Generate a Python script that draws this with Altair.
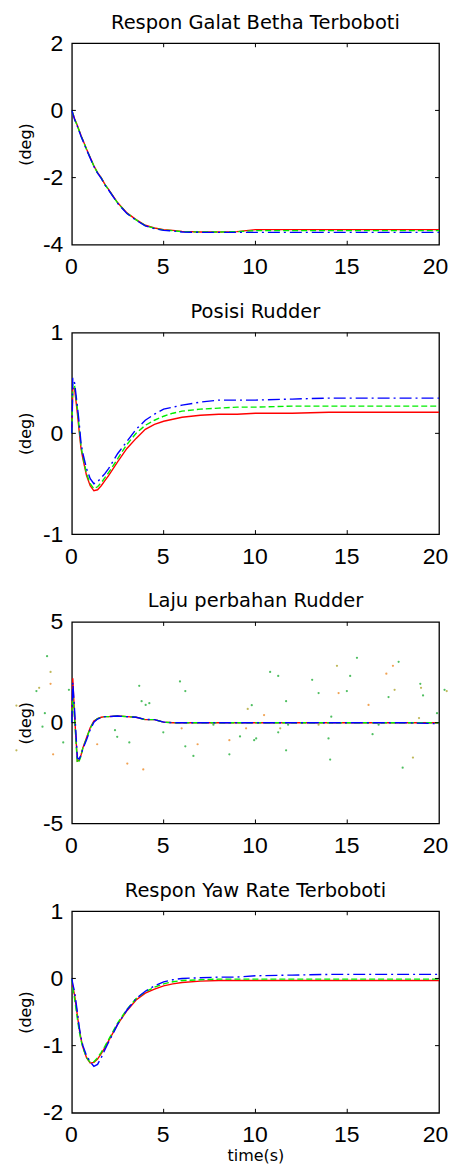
import altair as alt
import pandas as pd

T = [0, 0.05, 0.15, 0.3, 0.4, 0.5, 0.6, 0.8, 1.0, 1.2, 1.4, 1.6, 1.8, 2.0, 2.5, 3.0,
     3.5, 4.0, 4.5, 5.0, 5.5, 6.0, 7.0, 8.0, 9.0, 10.0, 12.0, 14.0, 16.0, 18.0, 20.0]

BETA_R = [0, -0.08, -0.25, -0.45, -0.6, -0.75, -0.88, -1.15, -1.4, -1.65, -1.85, -2.0, -2.2, -2.35, -2.75, -3.05,
          -3.25, -3.42, -3.5, -3.55, -3.57, -3.6, -3.62, -3.62, -3.61, -3.55, -3.55, -3.55, -3.55, -3.55, -3.55]
BETA_G = [0, -0.08, -0.26, -0.46, -0.61, -0.76, -0.89, -1.16, -1.41, -1.66, -1.86, -2.01, -2.21, -2.36, -2.76, -3.06,
          -3.26, -3.43, -3.51, -3.56, -3.58, -3.61, -3.62, -3.62, -3.61, -3.58, -3.58, -3.58, -3.58, -3.58, -3.58]
BETA_B = [0, -0.1, -0.27, -0.47, -0.62, -0.77, -0.9, -1.17, -1.42, -1.67, -1.87, -2.02, -2.22, -2.37, -2.77, -3.07,
          -3.27, -3.44, -3.52, -3.57, -3.59, -3.62, -3.63, -3.63, -3.63, -3.63, -3.63, -3.63, -3.63, -3.63, -3.63]

RUD_R = [0, 0.45, 0.44, 0.2, 0.02, -0.15, -0.25, -0.42, -0.52, -0.57, -0.56, -0.52, -0.47, -0.42, -0.28, -0.15,
         -0.05, 0.04, 0.09, 0.12, 0.14, 0.16, 0.18, 0.19, 0.19, 0.2, 0.2, 0.21, 0.21, 0.21, 0.21]
RUD_G = [0, 0.5, 0.47, 0.25, 0.05, -0.13, -0.23, -0.4, -0.5, -0.55, -0.53, -0.49, -0.44, -0.39, -0.25, -0.11,
         0.0, 0.08, 0.13, 0.17, 0.2, 0.22, 0.24, 0.25, 0.26, 0.26, 0.27, 0.27, 0.27, 0.27, 0.27]
RUD_B = [0, 0.55, 0.5, 0.27, 0.1, -0.1, -0.2, -0.35, -0.45, -0.5, -0.48, -0.44, -0.4, -0.35, -0.2, -0.08,
         0.04, 0.13, 0.19, 0.24, 0.26, 0.28, 0.31, 0.33, 0.33, 0.33, 0.34, 0.35, 0.35, 0.35, 0.35]

RATE_R = [0, 2.2, 0.3, -1.9, -1.85, -1.6, -1.25, -0.75, -0.25, 0.08, 0.2, 0.27, 0.3, 0.3, 0.33, 0.3,
          0.27, 0.15, 0.15, 0.03, 0.0, 0, 0, 0, 0, 0, 0, 0, 0, 0, 0]
RATE_G = [0, 1.4, 0.2, -2.0, -1.9, -1.65, -1.25, -0.78, -0.28, 0.06, 0.2, 0.27, 0.3, 0.3, 0.33, 0.3,
          0.27, 0.15, 0.15, 0.03, 0.0, 0, 0, 0, 0, 0, 0, 0, 0, 0, 0]
RATE_B = [0, 2.0, 0.6, -1.75, -1.8, -1.6, -1.3, -0.85, -0.35, 0.03, 0.18, 0.26, 0.3, 0.3, 0.33, 0.3,
          0.27, 0.16, 0.15, 0.03, 0.0, 0, 0, 0, 0, 0, 0, 0, 0, 0, -0.05]

YAW_R = [0, -0.12, -0.25, -0.55, -0.75, -0.9, -1.02, -1.18, -1.26, -1.25, -1.2, -1.12, -1.03, -0.93, -0.68, -0.48,
         -0.32, -0.22, -0.16, -0.11, -0.08, -0.06, -0.04, -0.03, -0.03, -0.03, -0.03, -0.03, -0.03, -0.03, -0.03]
YAW_G = [0, -0.15, -0.3, -0.6, -0.78, -0.92, -1.03, -1.18, -1.25, -1.24, -1.18, -1.1, -1.01, -0.91, -0.66, -0.46,
         -0.3, -0.2, -0.13, -0.08, -0.05, -0.03, -0.02, -0.01, -0.01, -0.01, -0.01, -0.01, -0.01, -0.01, -0.01]
YAW_B = [0, -0.08, -0.2, -0.5, -0.72, -0.88, -1.0, -1.15, -1.24, -1.31, -1.28, -1.18, -1.06, -0.95, -0.68, -0.47,
         -0.3, -0.19, -0.11, -0.05, -0.02, 0.0, 0.01, 0.02, 0.02, 0.04, 0.05, 0.06, 0.06, 0.06, 0.06]

# stray dots in the rate panel
DOT_X = [-3.02, -1.93, -1.78, -1.6, -1.47, -1.35, -1.16, -1.16, -1.02, -0.47, -0.16, 1.38, 2.35, 2.47, 3.02, 3.13,
         3.67, 3.8, 4.02, 4.22, 3.89, 4.98, 5.89, 5.98, 6.18, 6.18, 6.62, 6.85, 7.71, 8.58, 8.58, 9.16, 9.49,
         9.58, 9.8, 9.93, 10.04, 10.47, 10.8, 11.24, 11.24, 11.35, 11.67, 11.67, 11.78, 13.09, 13.44, 13.44,
         13.98, 14.07, 14.13, 14.44, 14.53, 14.98, 15.16, 15.53, 16.16, 16.38, 16.71, 17.13, 17.25, 17.49,
         17.58, 17.8, 18.02, 18.58, 18.91, 18.98, 19.02, 19.13, 19.89, 20.3, 20.42, -3.02]
DOT_Y = [-1.37, 1.57, 1.73, -0.2, 0.47, 3.3, 2.52, 1.93, -1.57, -0.98, 1.63, -1.07, -0.37, -0.7, -2.03, -0.98,
         1.83, 1.07, 0.88, 0.97, -2.32, -0.48, 2.05, -0.28, 1.57, -1.17, -1.65, -1.07, -0.1, -0.87, -1.57,
         -0.68, -0.28, 0.68, 0.87, -0.87, -0.78, 0.38, 2.52, 2.32, -0.48, -0.28, 1.07, -1.37, -0.1, 2.13, 1.47,
         -0.1, -0.78, -1.83, 0.3, 2.82, 1.47, 1.57, 2.32, 3.22, 0.88, -0.57, -0.1, 2.43, 1.27, 2.82, 1.63,
         3.02, -2.23, -1.73, 0.23, 1.93, 1.73, 1.35, 0.47, 1.63, 1.57, 0.85]
DOT_C = ["y", "g", "y", "g", "g", "g", "y", "o", "o", "g", "g", "o", "g", "g", "o", "g",
         "g", "g", "g", "g", "o", "g", "g", "o", "g", "g", "g", "o", "g", "o", "g", "g", "o",
         "y", "g", "g", "g", "o", "g", "g", "g", "y", "g", "g", "g", "g", "g", "y",
         "g", "g", "g", "y", "o", "g", "g", "g", "o", "g", "g", "o", "g", "o",
         "y", "g", "g", "y", "y", "g", "y", "g", "g", "g", "y", "y"]

X_TICKS = [0, 5, 10, 15, 20]
INNER_X = [5, 10, 15]

W, H = 368, 202
LABEL_EXPR = "datum.value < 0 ? '-' + abs(datum.value) : '' + datum.value"


def panel(title, yr, yticks, inner_y, r, g, b, dots=False, xtitle=None):
    df = pd.DataFrame({"t": T, "r": r, "g": g, "b": b})
    xs = alt.Scale(domain=[0, 20], nice=False)
    ys = alt.Scale(domain=yr, nice=False)
    xextra = {"titleY": 48, "titleBaseline": "alphabetic", "titleFont": "DejaVu Sans",
              "titleFontSize": 16, "titleFontWeight": "normal", "titleColor": "black"} if xtitle else {}
    xaxis = alt.Axis(values=X_TICKS, labelPadding=11, labelExpr=LABEL_EXPR, title=xtitle if xtitle else None,
                     labelFlush=False, labelOverlap=False,
                     labelOffset={"condition": {"test": "datum.value == 20", "value": -4}, "value": -1},
                     **xextra)
    yaxis = alt.Axis(values=yticks, labelPadding=9, labelExpr=LABEL_EXPR, title="(deg)",
                     labelOverlap=False, labelFlush=False,
                     titleX=-46, titleBaseline="middle", titleFont="DejaVu Sans", titleFontSize=16,
                     titleFontWeight="normal", titleColor="black")
    X = lambda f: alt.X(f, scale=xs, axis=xaxis)
    Y = lambda f: alt.Y(f, scale=ys, axis=yaxis)
    base = alt.Chart(df)
    layers = []
    layers.append(base.mark_line(color="#ff0000", strokeWidth=1.4).encode(x=X("t:Q"), y=Y("r:Q")))
    layers.append(base.mark_line(color="#00ee00", strokeWidth=1.4, strokeDash=[6, 3]).encode(
        x=X("t:Q"), y=Y("g:Q")))
    layers.append(base.mark_line(color="#0000ff", strokeWidth=1.4, strokeDash=[12, 4, 2, 4]).encode(
        x=X("t:Q"), y=Y("b:Q")))
    if dots:
        ddf = pd.DataFrame({"x": DOT_X, "y": DOT_Y, "c": DOT_C})
        layers.append(alt.Chart(ddf).mark_point(filled=True, size=5, opacity=0.9, clip=False).encode(
            x=X("x:Q"), y=Y("y:Q"),
            color=alt.Color("c:N", scale=alt.Scale(domain=["g", "o", "y"],
                                                   range=["#3cb850", "#f09840", "#b8b048"]), legend=None)))
    tx = pd.DataFrame({"x": INNER_X})
    ty = pd.DataFrame({"y": inner_y})
    layers.append(alt.Chart(tx).mark_rule(color="black", strokeWidth=1).encode(
        x=X("x:Q"), y=alt.value(H), y2=alt.value(H - 4)))
    layers.append(alt.Chart(tx).mark_rule(color="black", strokeWidth=1).encode(
        x=X("x:Q"), y=alt.value(0), y2=alt.value(4)))
    layers.append(alt.Chart(ty).mark_rule(color="black", strokeWidth=1).encode(
        y=Y("y:Q"), x=alt.value(0), x2=alt.value(4)))
    layers.append(alt.Chart(ty).mark_rule(color="black", strokeWidth=1).encode(
        y=Y("y:Q"), x=alt.value(W), x2=alt.value(W - 4)))
    return alt.layer(*layers).properties(
        width=W, height=H,
        title=alt.TitleParams(title, offset=-16, baseline="alphabetic"))


p1 = panel("Respon Galat Betha Terboboti", [-4, 2], [-4, -2, 0, 2], [-2, 0], BETA_R, BETA_G, BETA_B)
p2 = panel("Posisi Rudder", [-1, 1], [-1, 0, 1], [0], RUD_R, RUD_G, RUD_B)
p3 = panel("Laju perbahan Rudder", [-5, 5], [-5, 0, 5], [0], RATE_R, RATE_G, RATE_B, dots=True)
p4 = panel("Respon Yaw Rate Terboboti", [-2, 1], [-2, -1, 0, 1], [-1, 0], YAW_R, YAW_G, YAW_B, xtitle="time(s)")

chart = alt.vconcat(p1, p2, p3, p4, spacing=88, bounds="flush").properties(
    padding={"left": 6, "top": 2, "right": 0, "bottom": 0},
    background="white"
).configure_axis(
    labelFont="Liberation Sans", labelFontSize=23, labelColor="black",
    grid=False, ticks=False, domain=False
).configure_view(
    stroke="black", strokeWidth=1.3
).configure_title(
    font="DejaVu Sans", fontSize=19.5, fontWeight="normal", color="black"
)

chart.save("out.html", embed_options={"renderer": "svg", "actions": False})
